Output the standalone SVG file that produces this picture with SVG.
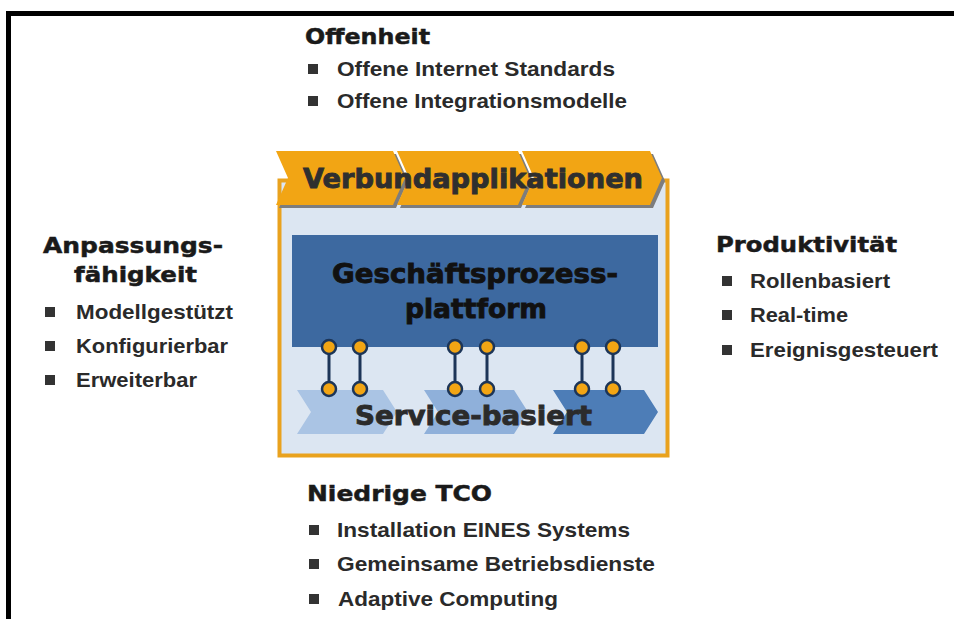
<svg xmlns="http://www.w3.org/2000/svg" width="954" height="619" viewBox="0 0 954 619">
  <defs>
    <style>
      .head { font-family: "DejaVu Sans", "Liberation Sans", sans-serif; font-weight: bold; font-size: 22px; fill: #1a1a1a; stroke: #1a1a1a; stroke-width: 0.5; }
      .item { font-family: "Liberation Sans", Arial, sans-serif; font-weight: bold; font-size: 21px; fill: #2a2a2a; }
      .big { font-family: "DejaVu Sans", "Liberation Sans", sans-serif; font-weight: bold; font-size: 27px; stroke-width: 0.9; }
      .bullet { fill: #333333; }
      .tab { fill: #f2a514; }
      .tabshadow { fill: #7d7d7d; }
      .pin { fill: #f2a514; stroke: #1c3558; stroke-width: 2.5; }
      .link { stroke: #1c3558; stroke-width: 3; }
    </style>
    <rect id="sq" width="10" height="10"/>
  </defs>

  <rect width="954" height="619" fill="#ffffff"/>
  <!-- outer frame (top and left edges) -->
  <path d="M8.5 619 V13.5 H954" fill="none" stroke="#000000" stroke-width="5"/>

  <!-- Offenheit -->
  <g id="offenheit">
    <text class="head" x="305" y="44" textLength="125" lengthAdjust="spacingAndGlyphs">Offenheit</text>
    <use href="#sq" class="bullet" x="308" y="64"/>
    <text class="item" x="337" y="76" textLength="278" lengthAdjust="spacingAndGlyphs">Offene Internet Standards</text>
    <use href="#sq" class="bullet" x="308" y="96"/>
    <text class="item" x="337" y="108" textLength="290" lengthAdjust="spacingAndGlyphs">Offene Integrationsmodelle</text>
  </g>

  <!-- Anpassungsfähigkeit -->
  <g id="anpassung">
    <text class="head" x="43" y="253" textLength="180" lengthAdjust="spacingAndGlyphs">Anpassungs-</text>
    <text class="head" x="74" y="282" textLength="123" lengthAdjust="spacingAndGlyphs">fähigkeit</text>
    <use href="#sq" class="bullet" x="45" y="307"/>
    <text class="item" x="76" y="319" textLength="157" lengthAdjust="spacingAndGlyphs">Modellgestützt</text>
    <use href="#sq" class="bullet" x="45" y="341"/>
    <text class="item" x="76" y="353" textLength="152" lengthAdjust="spacingAndGlyphs">Konfigurierbar</text>
    <use href="#sq" class="bullet" x="45" y="375"/>
    <text class="item" x="76" y="387" textLength="121" lengthAdjust="spacingAndGlyphs">Erweiterbar</text>
  </g>

  <!-- Produktivität -->
  <g id="produktivitaet">
    <text class="head" x="716" y="252" textLength="181" lengthAdjust="spacingAndGlyphs">Produktivität</text>
    <use href="#sq" class="bullet" x="722" y="276"/>
    <text class="item" x="750" y="288" textLength="140" lengthAdjust="spacingAndGlyphs">Rollenbasiert</text>
    <use href="#sq" class="bullet" x="722" y="310"/>
    <text class="item" x="750" y="322" textLength="98" lengthAdjust="spacingAndGlyphs">Real-time</text>
    <use href="#sq" class="bullet" x="722" y="345"/>
    <text class="item" x="750" y="357" textLength="188" lengthAdjust="spacingAndGlyphs">Ereignisgesteuert</text>
  </g>

  <!-- Niedrige TCO -->
  <g id="tco">
    <text class="head" x="307" y="501" textLength="185" lengthAdjust="spacingAndGlyphs">Niedrige TCO</text>
    <use href="#sq" class="bullet" x="309" y="525"/>
    <text class="item" x="337" y="537" textLength="293" lengthAdjust="spacingAndGlyphs">Installation EINES Systems</text>
    <use href="#sq" class="bullet" x="309" y="559"/>
    <text class="item" x="337" y="571" textLength="318" lengthAdjust="spacingAndGlyphs">Gemeinsame Betriebsdienste</text>
    <use href="#sq" class="bullet" x="309" y="594"/>
    <text class="item" x="338" y="606" textLength="220" lengthAdjust="spacingAndGlyphs">Adaptive Computing</text>
  </g>

  <!-- central architecture block -->
  <g id="architektur">
    <rect x="279.5" y="180.5" width="388" height="275" fill="#dce6f2" stroke="#e9a21e" stroke-width="4"/>
  </g>

  <g id="verbundapplikationen">
    <path class="tabshadow" d="M279 154 H396 L408 181 L396 208 H279 L291 181 Z"/>
    <path class="tabshadow" d="M400 154 H521 L533 181 L521 208 H400 L412 181 Z"/>
    <path class="tabshadow" d="M525 154 H653 L665 181 L653 208 H525 L537 181 Z"/>
    <path class="tab" d="M276 151 H393 L405 178 L393 205 H276 L288 178 Z"/>
    <path class="tab" d="M397 151 H518 L530 178 L518 205 H397 L409 178 Z"/>
    <path class="tab" d="M522 151 H650 L662 178 L650 205 H522 L534 178 Z"/>
    <text class="big" x="303" y="188" fill="#2f2f2f" stroke="#2f2f2f" textLength="340" lengthAdjust="spacingAndGlyphs">Verbundapplikationen</text>
  </g>

  <g id="plattform">
    <rect x="292" y="235" width="366" height="112" fill="#3d69a0"/>
    <text class="big" x="332" y="283" fill="#111111" stroke="#111111" textLength="286" lengthAdjust="spacingAndGlyphs">Geschäftsprozess-</text>
    <text class="big" x="405" y="318" fill="#111111" stroke="#111111" textLength="142" lengthAdjust="spacingAndGlyphs">plattform</text>
  </g>

  <g id="services">
    <path fill="#aac4e4" d="M297 390 H383 L397 412 L383 434 H297 L311 412 Z"/>
    <path fill="#8fb0da" d="M424 390 H514 L528 412 L514 434 H424 L438 412 Z"/>
    <path fill="#4d7db7" d="M553 390 H644 L658 412 L644 434 H553 L567 412 Z"/>
    <text class="big" x="355" y="425" fill="#2b2b2b" stroke="#2b2b2b" textLength="237" lengthAdjust="spacingAndGlyphs">Service-basiert</text>
  </g>

  <!-- links between platform and services -->
  <g id="connectors">
    <line class="link" x1="329" y1="347" x2="329" y2="389"/>
    <line class="link" x1="360" y1="347" x2="360" y2="389"/>
    <line class="link" x1="455" y1="347" x2="455" y2="389"/>
    <line class="link" x1="487" y1="347" x2="487" y2="389"/>
    <line class="link" x1="582" y1="347" x2="582" y2="389"/>
    <line class="link" x1="613" y1="347" x2="613" y2="389"/>
    <circle class="pin" cx="329" cy="347" r="7"/>
    <circle class="pin" cx="360" cy="347" r="7"/>
    <circle class="pin" cx="455" cy="347" r="7"/>
    <circle class="pin" cx="487" cy="347" r="7"/>
    <circle class="pin" cx="582" cy="347" r="7"/>
    <circle class="pin" cx="613" cy="347" r="7"/>
    <circle class="pin" cx="329" cy="389" r="7"/>
    <circle class="pin" cx="360" cy="389" r="7"/>
    <circle class="pin" cx="455" cy="389" r="7"/>
    <circle class="pin" cx="487" cy="389" r="7"/>
    <circle class="pin" cx="582" cy="389" r="7"/>
    <circle class="pin" cx="613" cy="389" r="7"/>
  </g>
</svg>
